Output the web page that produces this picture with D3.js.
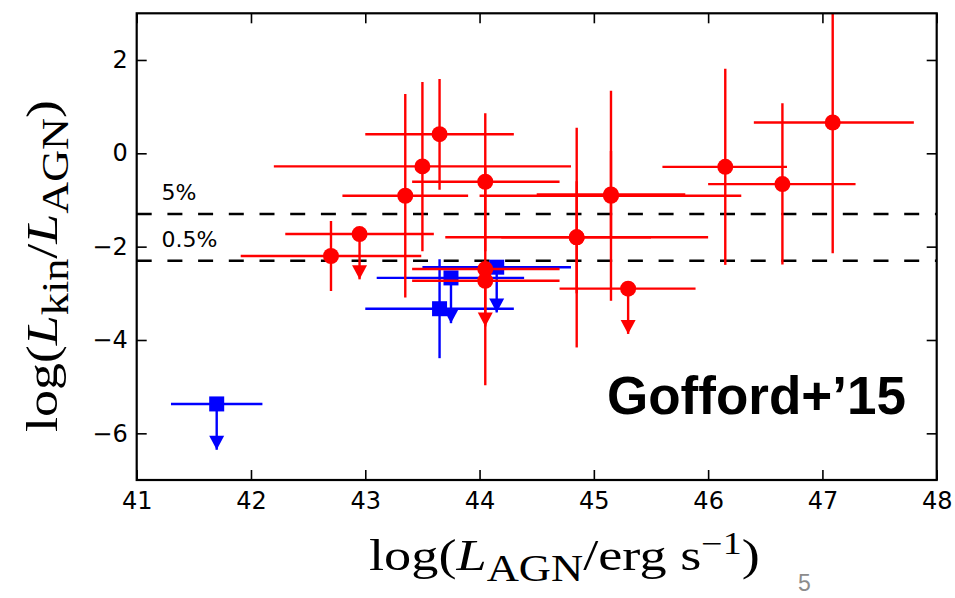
<!DOCTYPE html>
<html>
<head>
<meta charset="utf-8">
<script src="https://cdn.jsdelivr.net/npm/d3@7"></script>
<style>
  body { margin: 0; background: #fff; }
  svg { display: block; }
</style>
</head>
<body>
<svg id="chart" width="955" height="598"></svg>
<script>
// Outflow kinetic power relative to AGN luminosity (Gofford+'15).
// Red circles: one sample; blue squares: another. Bounds are the error-bar ends;
// for upper limits the low bound is where the arrow points.
const redLogLagn  = [43.65, 43.50, 43.35, 44.05, 42.95, 42.70, 44.85, 44.85, 45.15, 45.15, 46.15, 46.65, 47.09, 45.30, 44.05, 44.05];
const redLogRatio = [0.41, -0.28, -0.91, -0.61, -1.73, -2.20, -1.80, -1.80, -0.91, -0.88, -0.29, -0.66, 0.66, -2.90, -2.48, -2.73];
const redXLow     = [43.00, 42.20, 42.80, 43.41, 42.30, 41.91, 43.70, 44.19, 44.00, 44.50, 45.60, 46.00, 46.40, 44.70, 43.41, 43.41];
const redXHigh    = [44.30, 44.80, 43.90, 44.70, 43.60, 43.49, 46.00, 45.50, 46.29, 45.80, 46.69, 47.29, 47.80, 45.89, 44.70, 44.70];
const redYLow     = [-0.78, -2.10, -3.09, -2.10, -2.70, -2.95, -4.16, -3.00, -3.16, -1.80, -2.39, -2.38, -2.14, -3.87, -4.97, -3.71];
const redYHigh    = [1.59, 1.53, 1.27, 0.86, -1.73, -1.45, 0.55, -0.60, 1.34, 0.05, 1.81, 1.07, 3.60, -2.90, -0.30, -2.73];
const redUpperLimit = [false, false, false, false, true, false, false, false, false, false, false, false, false, true, false, true];

const blueLogLagn  = [41.70, 43.65, 43.75, 44.15];
const blueLogRatio = [-5.37, -3.33, -2.67, -2.44];
const blueXLow     = [41.30, 43.00, 43.10, 43.50];
const blueXHigh    = [42.10, 44.30, 44.39, 44.80];
const blueYLow     = [-6.35, -4.39, -3.64, -3.41];
const blueYHigh    = [-5.37, -2.27, -2.67, -2.44];
const blueUpperLimit = [true, false, true, true];

// Reference coupling efficiencies drawn as dashed lines
const refFractions = [0.05, 0.005];
const refLabels = ["5%", "0.5%"];

const xTicks = [41, 42, 43, 44, 45, 46, 47, 48];
const yTicks = [-6, -4, -2, 0, 2];
const xDomain = [41, 48];
const yDomain = [-7, 3];

const svg = d3.select("#chart");
const plot = { left: 136.7, right: 936.7, top: 13.3, bottom: 480 };

const x = d3.scaleLinear().domain(xDomain).range([plot.left, plot.right]);
const y = d3.scaleLinear().domain(yDomain).range([plot.bottom, plot.top]);

const RED = "#ff0000", BLUE = "#0000ff";
const tickFont = "'DejaVu Sans', sans-serif";

svg.append("defs").append("clipPath").attr("id", "plotClip")
  .append("rect")
  .attr("x", plot.left).attr("y", plot.top)
  .attr("width", plot.right - plot.left).attr("height", plot.bottom - plot.top);

// Dashed reference lines and their labels
const refG = svg.append("g").attr("clip-path", "url(#plotClip)");
refFractions.forEach((f, i) => {
  const yy = y(Math.log10(f));
  refG.append("line")
    .attr("x1", plot.left).attr("x2", plot.right)
    .attr("y1", yy).attr("y2", yy)
    .attr("stroke", "#000").attr("stroke-width", 2.4)
    .attr("stroke-dasharray", "15,15.7");
  svg.append("text")
    .attr("x", 161.5).attr("y", yy - 14)
    .attr("font-family", tickFont).attr("font-size", 22)
    .attr("fill", "#000")
    .text(refLabels[i]);
});

// Error bars, markers and upper-limit arrows
function drawSeries(xs, ys, xlo, xhi, ylo, yhi, ul, color, shape) {
  const g = svg.append("g").attr("clip-path", "url(#plotClip)");
  const data = xs.map((d, i) => ({ x: d, y: ys[i], xlo: xlo[i], xhi: xhi[i], ylo: ylo[i], yhi: yhi[i], ul: ul[i] }));
  const lw = 2.4;
  data.forEach(d => {
    g.append("line")
      .attr("x1", x(d.xlo)).attr("x2", x(d.xhi))
      .attr("y1", y(d.y)).attr("y2", y(d.y))
      .attr("stroke", color).attr("stroke-width", lw);
    g.append("line")
      .attr("x1", x(d.x)).attr("x2", x(d.x))
      .attr("y1", y(d.yhi)).attr("y2", y(d.ylo))
      .attr("stroke", color).attr("stroke-width", lw);
    if (d.ul) {
      const tx = x(d.x), ty = y(d.ylo);
      g.append("path")
        .attr("d", `M${tx},${ty} L${tx - 7.5},${ty - 14} L${tx + 7.5},${ty - 14} Z`)
        .attr("fill", color);
    }
  });
  data.forEach(d => {
    if (shape === "circle") {
      g.append("circle").attr("cx", x(d.x)).attr("cy", y(d.y)).attr("r", 8).attr("fill", color);
    } else {
      g.append("rect").attr("x", x(d.x) - 7.5).attr("y", y(d.y) - 7.5)
        .attr("width", 15).attr("height", 15).attr("fill", color);
    }
  });
}

drawSeries(blueLogLagn, blueLogRatio, blueXLow, blueXHigh, blueYLow, blueYHigh, blueUpperLimit, BLUE, "square");
drawSeries(redLogLagn, redLogRatio, redXLow, redXHigh, redYLow, redYHigh, redUpperLimit, RED, "circle");

// Axes: inward ticks on all four sides, labels on bottom and left
function styleAxis(g) {
  g.select(".domain").remove();
  g.selectAll(".tick line").attr("stroke", "#000").attr("stroke-width", 1.6);
  g.selectAll(".tick text").attr("font-family", tickFont).attr("font-size", 24).attr("fill", "#000");
}
svg.append("g").attr("transform", `translate(0,${plot.bottom})`)
  .call(d3.axisBottom(x).tickValues(xTicks).tickSizeInner(-10).tickSizeOuter(0).tickPadding(12).tickFormat(d3.format("d")))
  .call(styleAxis);
svg.append("g").attr("transform", `translate(0,${plot.top})`)
  .call(d3.axisTop(x).tickValues(xTicks).tickSizeInner(-10).tickSizeOuter(0).tickFormat(""))
  .call(styleAxis);
svg.append("g").attr("transform", `translate(${plot.left},0)`)
  .call(d3.axisLeft(y).tickValues(yTicks).tickSizeInner(-10).tickSizeOuter(0).tickPadding(9).tickFormat(d3.format("d")))
  .call(styleAxis);
svg.append("g").attr("transform", `translate(${plot.right},0)`)
  .call(d3.axisRight(y).tickValues(yTicks).tickSizeInner(-10).tickSizeOuter(0).tickFormat(""))
  .call(styleAxis);

svg.append("rect")
  .attr("x", plot.left).attr("y", plot.top)
  .attr("width", plot.right - plot.left).attr("height", plot.bottom - plot.top)
  .attr("fill", "none").attr("stroke", "#000").attr("stroke-width", 2.2);

// Math-style axis titles built from tspans, fitted to a target width
const mathFont = "'Liberation Serif', 'Times New Roman', serif";
function mathLabel(parts, size) {
  const t = svg.append("text").attr("font-family", mathFont).attr("font-size", size).attr("fill", "#000");
  parts.forEach(p => {
    const s = t.append("tspan").text(p.text);
    if (p.italic) s.attr("font-style", "italic");
    if (p.scale) s.attr("font-size", size * p.scale);
    if (p.dy) s.attr("dy", p.dy);
  });
  return t;
}
function fit(t, width) {
  const bb = t.node().getBBox();
  return { sx: width / bb.width, x0: bb.x };
}

const xLabelParts = [
  { text: "log(" },
  { text: "L", italic: true },
  { text: "AGN", scale: 0.82, dy: 11 },
  { text: "/erg s", dy: -11 },
  { text: "\u22121", scale: 0.7, dy: -16 },
  { text: ")", dy: 16 }
];
const xl = mathLabel(xLabelParts, 45);
const xf = fit(xl, 391);
xl.attr("transform", `translate(369,570) scale(${xf.sx},1) translate(${-xf.x0},0)`);

const yLabelParts = [
  { text: "log(" },
  { text: "L", italic: true },
  { text: "kin", scale: 0.82, dy: 11 },
  { text: "/", dy: -11 },
  { text: "L", italic: true },
  { text: "AGN", scale: 0.82, dy: 11 },
  { text: ")", dy: -11 }
];
const yl = mathLabel(yLabelParts, 45);
const yf = fit(yl, 332);
yl.attr("transform", `translate(57,432) rotate(-90) scale(${yf.sx},1) translate(${-yf.x0},0)`);

// In-panel reference tag
svg.append("text")
  .attr("x", 607).attr("y", 414)
  .attr("font-family", "'Liberation Sans', Arial, sans-serif")
  .attr("font-weight", "bold").attr("font-size", 53).attr("fill", "#000")
  .text("Gofford+\u201915");

// Slide number
svg.append("text")
  .attr("x", 798).attr("y", 591)
  .attr("font-family", "'Liberation Sans', Arial, sans-serif")
  .attr("font-size", 23).attr("fill", "#8c8c8c")
  .text("5");
</script>
</body>
</html>
